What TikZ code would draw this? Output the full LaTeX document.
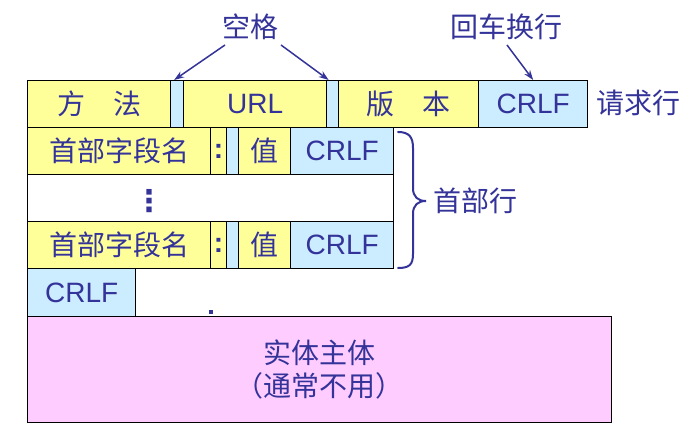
\documentclass[tikz,border=0pt]{standalone}
\usepackage{fontspec}
\setmainfont{Liberation Sans}
\newfontfamily\cjk{Noto Sans CJK SC}
\newfontfamily\djv{DejaVu Sans}
\usetikzlibrary{arrows.meta}
\definecolor{txt}{HTML}{333399}
\definecolor{yel}{HTML}{FFFF99}
\definecolor{lbl}{HTML}{CCECFF}
\definecolor{pnk}{HTML}{FFCCFF}
\begin{document}
\begin{tikzpicture}[x=1pt,y=-1pt,
  cell/.style={draw=black, line width=1.3pt, inner sep=0pt, anchor=north west,
    minimum height=47pt, text=txt, font=\fontsize{28}{33}\selectfont},
  ycell/.style={cell, fill=yel},
  bcell/.style={cell, fill=lbl},
  lab/.style={text=txt, inner sep=0pt, font=\cjk\fontsize{28}{33}\selectfont},
  arr/.style={draw=txt, line width=1.5pt, -{Stealth[length=10pt,width=7pt]}},
  colon/.style={text=txt, inner sep=0pt, font=\fontsize{28}{33}\selectfont\bfseries}
]
\useasboundingbox (0,0) rectangle (683,435);

% request line
\node[ycell, minimum width=143pt] (fa) at (27,80) {\cjk 方\quad 法};
\node[bcell, minimum width=13pt] (g1) at (170,80) {};
\node[ycell, minimum width=143pt] (url) at (183,80) {URL};
\node[bcell, minimum width=12pt] (g2) at (326,80) {};
\node[ycell, minimum width=140pt] (bb) at (338,80) {\cjk 版\quad 本};
\node[bcell, minimum width=109pt] (cr1) at (478,80) {CRLF\hspace{14pt}};
\node[lab] (qq) at (638,103) {请求行};

% header line 1
\node[ycell, minimum width=183pt] (n1) at (27,127) {\cjk 首部字段名\hspace{10pt}};
\node[ycell, minimum width=16pt] (c1) at (210,127) {};
\node[colon] (c1t) at (c1.center) {:};
\node[bcell, minimum width=12pt] (s1) at (226,127) {};
\node[ycell, minimum width=52pt] (v1) at (238,127) {\cjk 值};
\node[bcell, minimum width=103pt] (cr2) at (290,127) {CRLF};

% dots line
\node[cell, fill=white, minimum width=366pt] (dl) at (27,174) {};
\node[text=txt, inner sep=0pt, font=\djv\fontsize{30}{33}\selectfont\bfseries] (vd) at (149,201) {⋮};

% header line 2
\node[ycell, minimum width=183pt] (n2) at (27,221) {\cjk 首部字段名\hspace{10pt}};
\node[ycell, minimum width=16pt] (c2) at (210,221) {};
\node[colon] (c2t) at (c2.center) {:};
\node[bcell, minimum width=12pt] (s2) at (226,221) {};
\node[ycell, minimum width=52pt] (v2) at (238,221) {\cjk 值};
\node[bcell, minimum width=103pt] (cr3) at (290,221) {CRLF};

% final CRLF
\node[bcell, minimum width=108pt, minimum height=48pt] (cr4) at (27,268) {CRLF\hspace{6pt}};
\fill[txt] (208.5,310) rectangle (212.5,314);

% body
\node[cell, fill=pnk, minimum width=584pt, minimum height=106pt, align=center,
  font=\cjk\fontsize{28}{33}\selectfont] (body) at (27,316) {实体主体\\（通常不用）};

% brace
\draw[txt, line width=2pt, line cap=round]
  (398,132) .. controls (409,132) and (413,137) .. (413,148) -- (413,188)
  .. controls (413,197) and (418,201) .. (426,201)
  .. controls (418,201) and (413,205) .. (413,214) -- (413,254)
  .. controls (413,265) and (409,268) .. (398,268);
\node[lab] (sb) at (475,201) {首部行};

% labels and arrows
\node[lab] (kg) at (250,27) {空格};
\node[lab] (hc) at (506,27) {回车换行};
\coordinate (k1) at (225,45);
\coordinate (k2) at (281,45);
\coordinate (h1) at (507,45);
\draw[arr] (k1) -- ([xshift=-3pt]g1.north);
\draw[arr] (k2) -- ([xshift=-4pt]g2.north);
\draw[arr] (h1) -- (cr1.north);
\end{tikzpicture}
\end{document}
